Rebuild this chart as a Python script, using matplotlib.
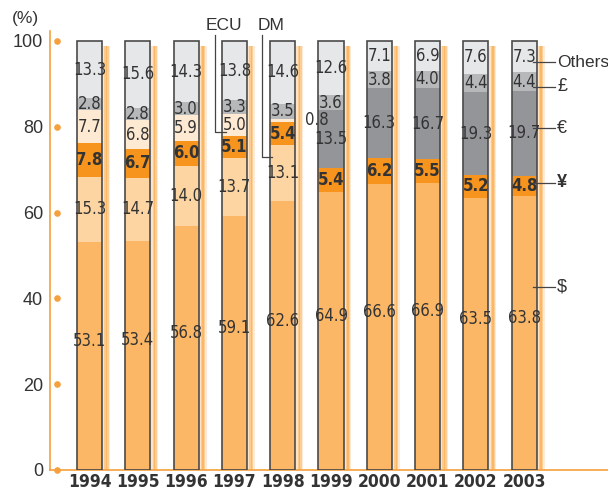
import matplotlib
matplotlib.use("Agg")
import matplotlib.pyplot as plt
from matplotlib import font_manager as fm
from matplotlib.font_manager import FontProperties
import matplotlib.transforms as mtransforms
import numpy as np

years = ["1994", "1995", "1996", "1997", "1998", "1999", "2000", "2001", "2002", "2003"]
usd    = [53.1, 53.4, 56.8, 59.1, 62.6, 64.9, 66.6, 66.9, 63.5, 63.8]
dm     = [15.3, 14.7, 14.0, 13.7, 13.1, 0, 0, 0, 0, 0]
yen    = [7.8, 6.7, 6.0, 5.1, 5.4, 5.4, 6.2, 5.5, 5.2, 4.8]
ecu    = [7.7, 6.8, 5.9, 5.0, 0.8, 0, 0, 0, 0, 0]
euro   = [0, 0, 0, 0, 0, 13.5, 16.3, 16.7, 19.3, 19.7]
pound  = [2.8, 2.8, 3.0, 3.3, 3.5, 3.6, 3.8, 4.0, 4.4, 4.4]
others = [13.3, 15.6, 14.3, 13.8, 14.6, 12.6, 7.1, 6.9, 7.6, 7.3]
yticks = [0, 20, 40, 60, 80, 100]


def is_condensed(f):
    st = f.stretch
    if isinstance(st, str):
        if "condensed" in st:
            return True
    elif isinstance(st, (int, float)) and st < 500:
        return True
    return ("Narrow" in f.name) or ("Condensed" in f.name)


def wnum(w):
    if isinstance(w, (int, float)):
        return w
    return {"bold": 700, "heavy": 800, "black": 900, "semibold": 600, "demibold": 600,
            "medium": 500, "normal": 400, "regular": 400, "book": 400, "light": 300}.get(str(w).lower(), 400)


cond = [f for f in fm.fontManager.ttflist if is_condensed(f) and f.style == "normal"]
pref = ["Liberation Sans Narrow", "DejaVu Sans", "Roboto Condensed", "Open Sans", "Noto Sans"]


def pick(bold):
    for p in pref:
        for f in cond:
            if f.name.startswith(p):
                w = wnum(f.weight)
                if (w >= 600) == bold:
                    return f.fname
    for f in cond:
        if (wnum(f.weight) >= 600) == bold:
            return f.fname
    return None


f_reg = pick(False)
f_bold = pick(True)


def fp(bold=False, size=11):
    fn = f_bold if bold else f_reg
    if fn:
        return FontProperties(fname=fn, size=size)
    return FontProperties(family="Liberation Sans", size=size * 0.85,
                          weight="bold" if bold else "normal")


reg = "Liberation Sans"

C_USD, C_DM, C_YEN, C_ECU = "#FBB766", "#FDD5A3", "#F7941D", "#FEEAD3"
C_EUR, C_GBP, C_OTH = "#939598", "#B6B8BA", "#E6E7E9"
ORANGE = "#F5A03A"
TXT = "#333333"

fig = plt.figure(figsize=(6.08, 4.92), dpi=100)
W, H = 608, 492
ax = fig.add_axes([50 / W, 22 / H, 558 / W, 439 / H])
ax.set_xlim(-0.818, 10.735)
ax.set_ylim(0, 102.33)

x = np.arange(len(years))
bw = 0.518

# shadow strips
shadow_cols = ["#FEE4C6", "#FCCB8E", "#FBB766", "#FCCD95", "#FEEAD6"]
sw = 0.145 / len(shadow_cols)
for k, c in enumerate(shadow_cols):
    ax.bar(x + bw / 2 + 0.02 + k * sw, [98.8] * len(x), width=sw, align="edge", color=c, lw=0, zorder=1)

series = [(usd, C_USD), (dm, C_DM), (yen, C_YEN), (ecu, C_ECU), (euro, C_EUR), (pound, C_GBP), (others, C_OTH)]
bottom = np.zeros(len(x))
bottoms = []
for vals, col in series:
    v = np.array(vals)
    ax.bar(x, v, width=bw, bottom=bottom, color=col, lw=0, zorder=2)
    bottoms.append(bottom.copy())
    bottom = bottom + v
ax.bar(x, bottom, width=bw, fill=False, edgecolor="#4A4A4A", lw=1.2, zorder=3)

# labels
for si, (vals, col) in enumerate(series):
    for i, v in enumerate(vals):
        if v == 0:
            continue
        yc = bottoms[si][i] + v / 2
        if si == 0:
            yc += 3.5
        bold = si == 2
        if si == 3 and v < 1:
            ax.text(x[i] + bw / 2 + 0.2, yc, f"{v:.1f}", ha="left", va="center",
                    fontproperties=fp(False, 12), color=TXT, zorder=4)
            continue
        ax.text(x[i], yc, f"{v:.1f}", ha="center", va="center",
                fontproperties=fp(bold, 12), color=TXT, zorder=4)

# ECU / DM leaders
ax.text(2.79, 103.5, "ECU", ha="center", va="center", fontsize=12.5, family=reg, color=TXT, clip_on=False)
ax.text(3.75, 103.5, "DM", ha="center", va="center", fontsize=12.5, family=reg, color=TXT, clip_on=False)
ax.plot([2.596, 2.596, 2.83], [101.5, 78.8, 78.8], color="#444444", lw=0.9, zorder=5, clip_on=False)
ax.plot([3.57, 3.57, 3.78], [101.5, 73.0, 73.0], color="#444444", lw=0.9, zorder=5, clip_on=False)

# right-side legend labels
right = [("Others", 95.1), ("£", 89.3), ("€", 79.7), ("¥", 66.9), ("$", 42.7)]
for lab, yv in right:
    ax.plot([9.176, 9.63], [yv, yv], color="#444444", lw=0.9, zorder=5)
    ax.text(9.68, yv, lab, ha="left", va="center", fontsize=12.5 if lab == "Others" else 13,
            family=reg, color=TXT, fontweight="bold" if lab == "¥" else "normal")

# axes styling
for s in ["top", "right"]:
    ax.spines[s].set_visible(False)
for s in ["left", "bottom"]:
    ax.spines[s].set_color(ORANGE)
    ax.spines[s].set_linewidth(1.2)
ax.set_xticks(x)
ax.set_xticklabels(years, color=TXT)
for t in ax.get_xticklabels():
    t.set_fontproperties(fp(True, 12.5))
ax.set_yticks(yticks)
ax.set_yticklabels([str(t) for t in yticks], fontsize=13, family=reg, color=TXT)
ax.tick_params(axis="both", length=0)
ax.tick_params(axis="x", pad=2.5)
ax.tick_params(axis="y", pad=5)

trans = mtransforms.blended_transform_factory(ax.transAxes, ax.transData)
ax.scatter([6.5 / 558] * len(yticks), yticks, s=14, color=ORANGE, transform=trans, zorder=5, clip_on=False)

fig.text(25 / W, 1 - 18 / H, "(%)", ha="center", va="center", fontsize=12.5, family=reg, color=TXT)

fig.savefig("out.png", dpi=100)
